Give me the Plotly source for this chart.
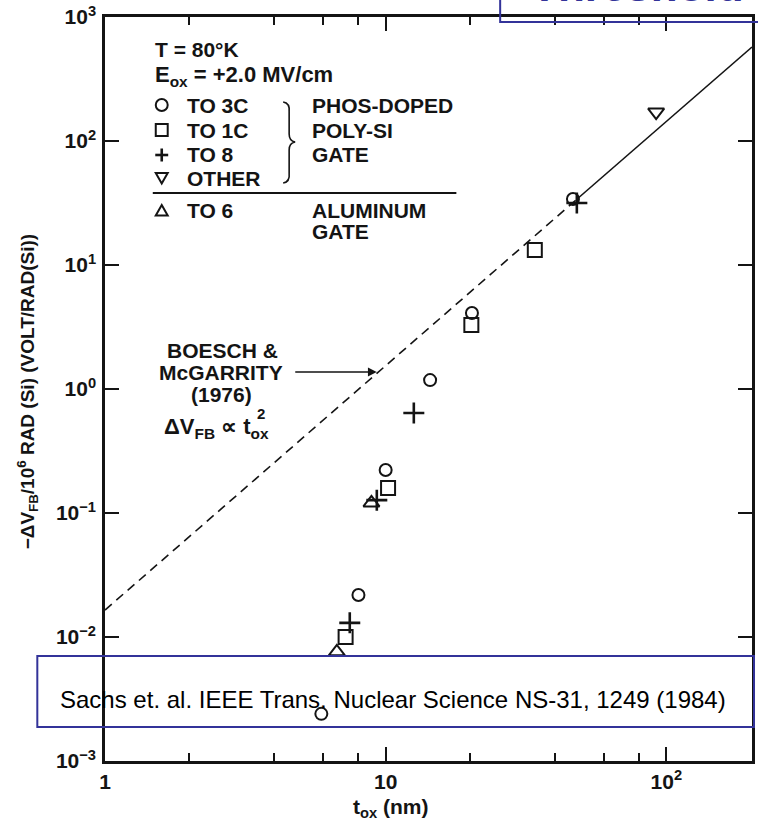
import plotly.graph_objects as go
import math

# ---------------- data ----------------
to3c_x = [5.9, 8.0, 10.0, 14.4, 20.3, 46.5]
to3c_y = [0.0024, 0.0218, 0.222, 1.18, 4.1, 34.1]

to1c_x = [7.2, 10.2, 20.2, 34.0]
to1c_y = [0.0100, 0.159, 3.28, 13.2]

to8_x = [7.45, 9.3, 12.6, 48.0]
to8_y = [0.0130, 0.127, 0.64, 31.6]

other_x = [92.0]
other_y = [171.0]

to6_x = [6.7, 8.9]
to6_y = [0.0076, 0.1205]

fit_dash_x = [1.0, 48.0]
fit_dash_y = [0.0165, 33.9]
fit_solid_x = [48.0, 202.0]
fit_solid_y = [33.9, 573.0]

y_tickvals = [1e-3, 1e-2, 1e-1, 1e0, 1e1, 1e2, 1e3]
y_ticktext = ["10<sup>\u22123</sup>", "10<sup>\u22122</sup>", "10<sup>\u22121</sup>",
              "10<sup>0</sup>", "10<sup>1</sup>", "10<sup>2</sup>", "10<sup>3</sup>"]
x_tickvals = [1, 10, 100]
x_ticktext = ["1", "10", "10<sup>2</sup>"]
x_minor = [2, 4, 6, 8, 20, 40, 60, 80]

# ---------------- geometry ----------------
W, H = 758, 825
L, R, T, B = 105, 3, 17, 64
PW, PH = W - L - R, H - T - B


def X(px):
    return (px - L) / PW


def Y(py):
    return (H - B - py) / PH


INK = "#141414"
BLUE = "#333399"
FONT = "Arial"

fig = go.Figure()

mk_line = dict(color=INK, width=2)
fig.add_trace(go.Scatter(x=fit_dash_x, y=fit_dash_y, mode="lines",
                         line=dict(color=INK, width=1.6, dash="9px,6px"), hoverinfo="skip"))
fig.add_trace(go.Scatter(x=fit_solid_x, y=fit_solid_y, mode="lines",
                         line=dict(color=INK, width=1.6), hoverinfo="skip"))
fig.add_trace(go.Scatter(x=to3c_x, y=to3c_y, mode="markers", name="TO 3C",
                         marker=dict(symbol="circle-open", size=12, line=mk_line, color=INK)))
fig.add_trace(go.Scatter(x=to1c_x, y=to1c_y, mode="markers", name="TO 1C",
                         marker=dict(symbol="square-open", size=14, line=mk_line, color=INK)))
fig.add_trace(go.Scatter(x=to8_x, y=to8_y, mode="markers", name="TO 8",
                         marker=dict(symbol="cross-thin-open", size=15,
                                     line=dict(color=INK, width=2.6), color=INK)))
fig.add_trace(go.Scatter(x=other_x, y=other_y, mode="markers", name="OTHER",
                         marker=dict(symbol="triangle-down-open", size=14, line=mk_line, color=INK)))
fig.add_trace(go.Scatter(x=to6_x, y=to6_y, mode="markers", name="TO 6",
                         marker=dict(symbol="triangle-up-open", size=14, line=mk_line, color=INK)))

axis_common = dict(type="log", showgrid=False, zeroline=False, showline=True,
                   linecolor=INK, linewidth=2.5, mirror="ticks", ticks="inside",
                   tickcolor=INK, tickwidth=2, ticklen=14,
                   tickfont=dict(family=FONT, size=21, color=INK, weight="bold"))

fig.update_xaxes(**axis_common, range=[0, math.log10(202)], tickmode="array",
                 tickvals=x_tickvals, ticktext=x_ticktext, ticklabelstandoff=0,
                 minor=dict(tickmode="array", tickvals=x_minor, ticks="inside",
                            ticklen=8, tickwidth=1.6, tickcolor=INK, showgrid=False))
fig.update_yaxes(**axis_common, range=[-3, 3], tickmode="array",
                 tickvals=y_tickvals, ticktext=y_ticktext, ticklabelstandoff=2)

ann = []
shapes = []


def txt(px, py, s, size=21, anchor="left", weight="bold", color=INK, family=FONT, **kw):
    ann.append(dict(x=X(px), y=Y(py), xref="paper", yref="paper", text=s, showarrow=False,
                    xanchor=anchor, yanchor="middle",
                    font=dict(family=family, size=size, color=color, weight=weight), **kw))


# legend block
txt(153, 50, "T = 80\u00b0K")
txt(153, 76, "E<sub>ox</sub> = +2.0 MV/cm", size=22)
for label, py in [("TO 3C", 105), ("TO 1C", 130), ("TO 8", 155), ("OTHER", 178), ("TO 6", 210)]:
    txt(185, py, label)
for label, py in [("PHOS-DOPED", 105), ("POLY-SI", 130), ("GATE", 155), ("ALUMINUM", 210), ("GATE", 232)]:
    txt(311, py, label)

sym_line = dict(color=INK, width=2)
shapes.append(dict(type="circle", xref="paper", yref="paper", x0=X(156), x1=X(168),
                   y0=Y(111), y1=Y(99), line=sym_line))
shapes.append(dict(type="rect", xref="paper", yref="paper", x0=X(156), x1=X(168),
                   y0=Y(136), y1=Y(124), line=sym_line))
shapes.append(dict(type="line", xref="paper", yref="paper", x0=X(155.5), x1=X(168.5),
                   y0=Y(155), y1=Y(155), line=dict(color=INK, width=2.6)))
shapes.append(dict(type="line", xref="paper", yref="paper", x0=X(162), x1=X(162),
                   y0=Y(148.5), y1=Y(161.5), line=dict(color=INK, width=2.6)))


def path(points, close=True):
    s = "M " + " L ".join(f"{X(a):.5f},{Y(b):.5f}" for a, b in points)
    return s + (" Z" if close else "")


shapes.append(dict(type="path", xref="paper", yref="paper",
                   path=path([(156, 173), (168, 173), (162, 183.5)]), line=sym_line))
shapes.append(dict(type="path", xref="paper", yref="paper",
                   path=path([(156, 215.5), (168, 215.5), (162, 205)]), line=sym_line))

# separator line
shapes.append(dict(type="line", xref="paper", yref="paper", x0=X(153), x1=X(458),
                   y0=Y(193), y1=Y(193), line=dict(color=INK, width=1.8)))

# brace
bp = (f"M {X(284):.5f},{Y(102):.5f} Q {X(291):.5f},{Y(103):.5f} {X(290):.5f},{Y(112):.5f} "
      f"L {X(290):.5f},{Y(134):.5f} Q {X(290):.5f},{Y(141):.5f} {X(296):.5f},{Y(142):.5f} "
      f"Q {X(290):.5f},{Y(143):.5f} {X(290):.5f},{Y(150):.5f} "
      f"L {X(290):.5f},{Y(173):.5f} Q {X(291):.5f},{Y(182):.5f} {X(284):.5f},{Y(183):.5f}")
shapes.append(dict(type="path", xref="paper", yref="paper", path=bp,
                   line=dict(color=INK, width=1.6)))

# Boesch annotation
txt(223, 350, "BOESCH &", size=21, anchor="center")
txt(222, 372, "McGARRITY", size=21, anchor="center")
txt(222, 394, "(1976)", size=21, anchor="center")
txt(162, 428, "\u0394V<sub>FB</sub> \u221d t<sub>ox</sub>", size=22, anchor="left")
txt(262, 413, "2", size=15, anchor="center")
ann.append(dict(x=X(378), y=Y(372), xref="paper", yref="paper", text="", showarrow=True,
                ax=-83, ay=0, arrowhead=2, arrowsize=1.1, arrowwidth=1.6, arrowcolor=INK))

# axis titles
txt(392, 808, "t<sub>ox</sub> (nm)", size=21, anchor="center")
ann.append(dict(x=X(27), y=Y(391), xref="paper", yref="paper", showarrow=False,
                text="\u2212\u0394V<sub>FB</sub>/10<sup>6</sup> RAD (Si) (VOLT/RAD(Si))",
                textangle=-90, xanchor="center", yanchor="middle",
                font=dict(family=FONT, size=19, color=INK, weight="bold")))

# citation box
shapes.append(dict(type="rect", xref="paper", yref="paper", x0=X(37), x1=X(757),
                   y0=Y(727), y1=Y(656), line=dict(color=BLUE, width=2)))
txt(58, 699, "Sachs et. al. IEEE Trans. Nuclear Science NS-31, 1249 (1984)", size=24,
    weight="normal", color="#000000")

# title box (cut off at top)
shapes.append(dict(type="rect", xref="paper", yref="paper", x0=X(502), x1=X(800),
                   y0=Y(22), y1=Y(-60), line=dict(color=BLUE, width=2)))
ann.append(dict(x=X(532), y=Y(11), xref="paper", yref="paper", text="Threshold",
                showarrow=False, xanchor="left", yanchor="bottom", borderpad=0,
                font=dict(family=FONT, size=44, color=BLUE, weight="bold")))

fig.update_layout(width=W, height=H, margin=dict(l=L, r=R, t=T, b=B),
                  paper_bgcolor="white", plot_bgcolor="white", showlegend=False,
                  annotations=ann, shapes=shapes)

fig.write_html("out.html", config={"displayModeBar": False},
               post_script="document.body.style.margin='0';document.body.style.overflow='hidden';")
